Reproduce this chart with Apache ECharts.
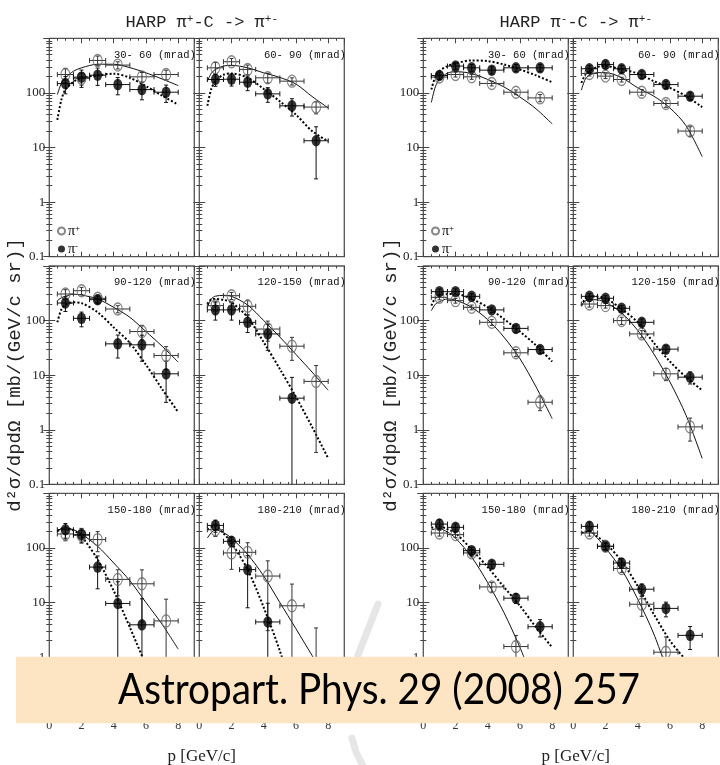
<!DOCTYPE html>
<html>
<head>
<meta charset="utf-8">
<script src="https://cdn.jsdelivr.net/npm/echarts@6/dist/echarts.min.js"></script>
<style>
  html, body { margin: 0; padding: 0; background: #fff; }
  #chart { width: 720px; height: 765px; }
</style>
</head>
<body>
<div id="chart"></div>
<script>
// momentum bins [GeV/c]: centre and half width
var pMid = [1, 2, 3, 4.25, 5.75, 7.25];
var pHalf = [0.5, 0.5, 0.5, 0.75, 0.75, 0.75];
var fitP = [0.5, 0.75, 1, 1.5, 2, 3, 4, 5, 6, 7, 8];
var angleBins = ['30- 60', '60- 90', '90-120', '120-150', '150-180', '180-210'];
var xTicks = [0, 2, 4, 6, 8];
var yTicks = [0.1, 1, 10, 100];

// pi+ beam on C  (rows = angle bins)
var posPip = [
  [217, 185, 393, 323, 197, 217],
  [288, 372, 269, 189, 164, 55],
  [307, 353, 256, 163, 63, 23],
  [188, 286, 183, 70, 34, 7.7],
  [180, 170, 142, 26.5, 22, 4.6],
  [215, 81, 83, 30.5, 8.7, 0.6]
];
var posPipErr = [
  [0.3, 0.25, 0.2, 0.15, 0.2, 0.2],
  [0.25, 0.15, 0.2, 0.2, 0.15, 0.25],
  [0.2, 0.15, 0.15, 0.15, 0.3, 0.45],
  [0.2, 0.15, 0.3, 0.4, 0.45, 0.95],
  [0.25, 0.25, 0.4, 0.5, 0.8, 1.5],
  [0.25, 0.5, 0.5, 0.9, 1.5, 4.7]
];
var posPim = [
  [148, 194, 211, 142, 115, 103],
  [176, 178, 157, 96, 58, 13.3],
  [210, 110, 242, 37.5, 36, 10.6],
  [157, 157, 93, 57, 3.8, null],
  [215, 175, 44.5, 9.6, 3.9, null],
  [258, 132, 40, 4.4, null, null]
];
var posPimErr = [
  [0.35, 0.35, 0.35, 0.35, 0.35, 0.35],
  [0.25, 0.25, 0.3, 0.3, 0.35, 0.8],
  [0.3, 0.3, 0.15, 0.45, 0.5, 0.7],
  [0.35, 0.35, 0.35, 0.5, 1.4, null],
  [0.3, 0.3, 0.6, 1.5, 2, null],
  [0.25, 0.2, 0.8, 1.2, null, null]
];
var posPipFit = [
  [93, 150, 189, 250, 288, 335, 335, 290, 233, 180, 136],
  [164, 230, 269, 310, 320, 288, 233, 192, 145, 86, 53],
  [232, 262, 278, 305, 294, 249, 175, 115, 63, 34, 17.4],
  [175, 250, 280, 290, 278, 193, 100, 50, 24, 11.4, 5.3],
  [207, 225, 231, 215, 180, 107, 53, 25, 10, 4, 1.4],
  [152, 190, 215, 190, 151, 76, 30.5, 10, 3.3, 1.07, 0.35]
];
var posPimFit = [
  [32, 75, 115, 160, 189, 209, 225, 189, 133, 89, 61],
  [58, 120, 164, 215, 227, 189, 118, 70, 40, 20, 13],
  [93, 160, 193, 216, 209, 142, 75, 39, 15.5, 5.6, 2.1],
  [201, 245, 249, 240, 216, 115, 40, 13, 4, 1.13, 0.3],
  [201, 225, 231, 210, 163, 61, 16.3, 3.5, 0.7, 0.13, null],
  [215, 240, 248, 185, 123, 40, 8.1, 1.3, 0.15, null, null]
];

// pi- beam on C
var negPip = [
  [195, 217, 197, 149, 103, 81],
  [227, 203, 176, 103, 64, 20],
  [267, 232, 175, 93, 25.7, 3.2],
  [201, 188, 100, 57, 10.6, 1.13],
  [187, 175, 81, 19.3, 1.56, null],
  [187, 107, 42, 9.3, 1.23, null]
];
var negPipErr = [
  [0.1, 0.1, 0.1, 0.1, 0.1, 0.15],
  [0.1, 0.1, 0.1, 0.12, 0.15, 0.2],
  [0.1, 0.1, 0.1, 0.12, 0.15, 0.3],
  [0.12, 0.1, 0.15, 0.15, 0.25, 0.45],
  [0.12, 0.12, 0.15, 0.2, 0.6, null],
  [0.12, 0.12, 0.15, 0.4, 0.9, null]
];
var negPim = [
  [208, 310, 288, 261, 288, 288],
  [277, 332, 277, 217, 142, 87],
  [339, 339, 278, 157, 72, 29.5],
  [278, 256, 168, 93, 30, 9.2],
  [273, 238, 89, 50, 12, 3.6],
  [248, 107, 53, 17.5, 7.8, 2.5]
];
var negPimErr = [
  [0.15, 0.15, 0.15, 0.15, 0.15, 0.15],
  [0.15, 0.15, 0.15, 0.15, 0.15, 0.15],
  [0.12, 0.12, 0.12, 0.12, 0.15, 0.15],
  [0.12, 0.12, 0.12, 0.15, 0.15, 0.25],
  [0.2, 0.15, 0.15, 0.15, 0.2, 0.35],
  [0.2, 0.15, 0.2, 0.25, 0.3, 0.45]
];
var negPipFit = [
  [67, 130, 176, 230, 245, 227, 176, 129, 84, 51, 27],
  [112, 180, 210, 235, 235, 190, 124, 87, 53, 25, 6.8],
  [152, 200, 222, 249, 238, 175, 104, 50, 20, 6.1, 1.6],
  [193, 230, 242, 240, 216, 138, 66, 24.5, 7.5, 1.84, 0.3],
  [215, 222, 225, 195, 151, 68, 23, 6.6, 1.5, 0.28, null],
  [187, 197, 201, 150, 100, 40, 11.5, 2.65, 0.4, null, null]
];
var negPimFit = [
  [115, 200, 251, 310, 347, 394, 383, 332, 269, 209, 157],
  [153, 215, 251, 300, 310, 269, 227, 164, 124, 87, 55],
  [188, 260, 294, 305, 307, 249, 175, 107, 63, 35, 17.8],
  [188, 255, 278, 275, 256, 163, 93, 39, 17.8, 9.2, 5.3],
  [231, 245, 248, 220, 187, 93, 44.5, 19.3, 8.7, 3.5, 1.5],
  [187, 197, 201, 160, 123, 57, 20, 6.1, 2, 0.87, null]
];

var beams = [
  { pip: posPip, pipErr: posPipErr, pim: posPim, pimErr: posPimErr, pipFit: posPipFit, pimFit: posPimFit },
  { pip: negPip, pipErr: negPipErr, pim: negPim, pimErr: negPimErr, pipFit: negPipFit, pimFit: negPimFit }
];

// panel layout
var colLeft = [49.3, 199.3, 423.3, 573.3];
var rowTop = [38.3, 266, 493.3];
var panelW = 145, panelH = 218.4;
var groupMid = [196.8, 570.8];

var ellipse = 'path://M50 0A50 50 0 1 1 50 100A50 50 0 1 1 50 0Z';
var serif = 'Liberation Serif';
var mono = 'Liberation Mono';

function isTick(v, list) {
  for (var i = 0; i < list.length; i++) {
    if (Math.abs(v / (list[i] || 1) - 1) < 1e-6 || v === list[i]) return true;
  }
  return false;
}

function errRender(color) {
  return function (params, api) {
    var x = api.value(0), y = api.value(1), dx = api.value(2), e = api.value(3);
    var lo = y * (1 - e), hi = Math.min(y * (1 + e), 1000);
    var clipped = lo <= 0.1;
    if (clipped) lo = 0.1;
    var pl = api.coord([x - dx, y]), pr = api.coord([x + dx, y]);
    var pt = api.coord([x, hi]), pb = api.coord([x, lo]);
    var st = { stroke: color, lineWidth: 1 };
    var cap = 2.5;
    var kids = [
      { type: 'line', shape: { x1: pl[0], y1: pl[1], x2: pr[0], y2: pr[1] }, style: st },
      { type: 'line', shape: { x1: pt[0], y1: pt[1], x2: pb[0], y2: pb[1] }, style: st },
      { type: 'line', shape: { x1: pl[0], y1: pl[1] - cap, x2: pl[0], y2: pl[1] + cap }, style: st },
      { type: 'line', shape: { x1: pr[0], y1: pr[1] - cap, x2: pr[0], y2: pr[1] + cap }, style: st },
      { type: 'line', shape: { x1: pt[0] - 2, y1: pt[1], x2: pt[0] + 2, y2: pt[1] }, style: st }
    ];
    if (!clipped) {
      kids.push({ type: 'line', shape: { x1: pb[0] - 2, y1: pb[1], x2: pb[0] + 2, y2: pb[1] }, style: st });
    }
    return { type: 'group', children: kids };
  };
}

function pointRows(vals, errs) {
  var out = [];
  vals.forEach(function (v, i) {
    if (v != null) out.push([pMid[i], v, pHalf[i], errs[i]]);
  });
  return out;
}

function fitRows(vals) {
  var out = [];
  vals.forEach(function (v, i) {
    if (v != null) out.push([fitP[i], v]);
  });
  return out;
}

var grids = [], xAxes = [], yAxes = [], series = [], titles = [];
var k = 0;
for (var g = 0; g < 2; g++) {
  for (var r = 0; r < 3; r++) {
    for (var c = 0; c < 2; c++) {
      var a = r * 2 + c;
      var b = beams[g];
      var left = colLeft[g * 2 + c];
      grids.push({
        left: left, top: rowTop[r], width: panelW, height: panelH,
        show: true, borderColor: '#555', borderWidth: 1.3, backgroundColor: '#fff'
      });
      var tickStyle = { color: '#444', width: 1 };
      // bottom + top x axes
      xAxes.push({
        gridIndex: k, type: 'value', min: 0, max: 9, interval: 2, position: 'bottom',
        axisLine: { show: false },
        axisTick: { inside: true, length: 5, lineStyle: tickStyle },
        minorTick: { show: true, splitNumber: 4, length: 2.5, lineStyle: tickStyle },
        splitLine: { show: false },
        axisLabel: {
          show: r === 2, margin: 8, showMaxLabel: false,
          fontFamily: serif, fontSize: 12, color: '#333',
          formatter: function (v) { return isTick(v, xTicks) ? String(v) : ''; }
        }
      });
      xAxes.push({
        gridIndex: k, type: 'value', min: 0, max: 9, interval: 2, position: 'top',
        axisLine: { show: false },
        axisTick: { inside: true, length: 5, lineStyle: tickStyle },
        minorTick: { show: true, splitNumber: 4, length: 2.5, lineStyle: tickStyle },
        splitLine: { show: false }, axisLabel: { show: false }
      });
      // left + right log y axes
      yAxes.push({
        gridIndex: k, type: 'log', logBase: 10, min: 0.1, max: 1000, position: 'left',
        axisLine: { show: false },
        axisTick: { inside: true, length: 6, lineStyle: tickStyle },
        minorTick: { show: true, splitNumber: 9, length: 3, lineStyle: tickStyle },
        splitLine: { show: false },
        axisLabel: {
          show: c === 0, margin: 4, showMaxLabel: false,
          fontFamily: serif, fontSize: 13, color: '#222',
          formatter: function (v) { return isTick(v, yTicks) ? String(v) : ''; }
        }
      });
      yAxes.push({
        gridIndex: k, type: 'log', logBase: 10, min: 0.1, max: 1000, position: 'right',
        axisLine: { show: false },
        axisTick: { inside: true, length: 6, lineStyle: tickStyle },
        minorTick: { show: true, splitNumber: 9, length: 3, lineStyle: tickStyle },
        splitLine: { show: false }, axisLabel: { show: false }
      });

      var xi = 2 * k, yi = 2 * k;
      series.push({
        type: 'line', name: 'fit+', xAxisIndex: xi, yAxisIndex: yi, data: fitRows(b.pipFit[a]),
        showSymbol: false, smooth: 0.3, silent: true, z: 1,
        lineStyle: { color: '#111', width: 1 }
      });
      series.push({
        type: 'line', name: 'fit-', xAxisIndex: xi, yAxisIndex: yi, data: fitRows(b.pimFit[a]),
        showSymbol: false, smooth: 0.3, silent: true, z: 1,
        lineStyle: { color: '#000', width: 2, type: [2, 2] }
      });
      series.push({
        type: 'custom', xAxisIndex: xi, yAxisIndex: yi, data: pointRows(b.pip[a], b.pipErr[a]),
        encode: { x: 0, y: 1 }, silent: true, z: 2, renderItem: errRender('#333')
      });
      series.push({
        type: 'custom', xAxisIndex: xi, yAxisIndex: yi, data: pointRows(b.pim[a], b.pimErr[a]),
        encode: { x: 0, y: 1 }, silent: true, z: 2, renderItem: errRender('#111')
      });
      series.push({
        type: 'scatter', name: 'pip', xAxisIndex: xi, yAxisIndex: yi,
        data: pointRows(b.pip[a], b.pipErr[a]).map(function (d) { return [d[0], d[1]]; }),
        symbol: ellipse, symbolSize: [9, 12], silent: true, z: 3,
        itemStyle: { color: 'rgba(255,255,255,0)', borderColor: '#666', borderWidth: 1.2 }
      });
      series.push({
        type: 'scatter', name: 'pim', xAxisIndex: xi, yAxisIndex: yi,
        data: pointRows(b.pim[a], b.pimErr[a]).map(function (d) { return [d[0], d[1]]; }),
        symbol: ellipse, symbolSize: [9, 11.5], silent: true, z: 4,
        itemStyle: { color: '#000' }
      });

      titles.push({
        text: angleBins[a] + ' (mrad)', left: left + panelW - 3.5, top: rowTop[r] + 6, textAlign: 'right',
        textStyle: { fontFamily: mono, fontSize: 10.5, fontWeight: 'normal', color: '#111' }
      });
      k++;
    }
  }
}

var supRich = { s: { fontFamily: mono, fontSize: 11, verticalAlign: 'top', lineHeight: 12 } };
titles.push({
  text: 'HARP π{s|+}-C -> π{s|+-}', left: groupMid[0], top: 9, textAlign: 'center',
  textStyle: { fontFamily: mono, fontSize: 17, fontWeight: 'normal', color: '#222', rich: supRich }
});
titles.push({
  text: 'HARP π{s|-}-C -> π{s|+-}', left: groupMid[1], top: 9, textAlign: 'center',
  textStyle: { fontFamily: mono, fontSize: 17, fontWeight: 'normal', color: '#222', rich: supRich }
});
titles.push({
  text: 'p [GeV/c]', left: groupMid[0], top: 743, textAlign: 'center',
  textStyle: { fontFamily: serif, fontSize: 17, fontWeight: 'normal', color: '#222' }
});
titles.push({
  text: 'p [GeV/c]', left: groupMid[1], top: 743, textAlign: 'center',
  textStyle: { fontFamily: serif, fontSize: 17, fontWeight: 'normal', color: '#222' }
});

function legendFor(x) {
  return {
    data: ['pip', 'pim'], left: x, top: 219, orient: 'vertical', itemGap: 4,
    itemWidth: 7, itemHeight: 10, selectedMode: false,
    formatter: function (n) { return n === 'pip' ? 'π{s|+}' : 'π{s|-}'; },
    textStyle: {
      fontFamily: serif, fontSize: 14, color: '#000', padding: [0, 0, 0, -2],
      rich: { s: { fontFamily: serif, fontSize: 9, verticalAlign: 'top', lineHeight: 10 } }
    }
  };
}

var yTitle = 'd²σ/dpdΩ [mb/(GeV/c sr)]';
var chart = echarts.init(document.getElementById('chart'));
chart.setOption({
  backgroundColor: '#fff',
  animation: false,
  title: titles,
  legend: [legendFor(52), legendFor(426)],
  grid: grids,
  xAxis: xAxes,
  yAxis: yAxes,
  series: series,
  graphic: [
    {
      type: 'polyline', z: 0, silent: true,
      shape: { points: [[378, 604], [358, 655]] },
      style: { stroke: '#e6e6e6', lineWidth: 7, fill: null, lineCap: 'round' }
    },
    {
      type: 'polyline', z: 0, silent: true,
      shape: { points: [[352, 738], [356, 752], [363, 766]] },
      style: { stroke: '#e6e6e6', lineWidth: 7, fill: null, lineCap: 'round' }
    },
    {
      type: 'text', x: 15, y: 375, rotation: Math.PI / 2, silent: true,
      style: { text: yTitle, font: '19px "Liberation Mono"', fill: '#222', align: 'center', verticalAlign: 'middle' }
    },
    {
      type: 'text', x: 391, y: 375, rotation: Math.PI / 2, silent: true,
      style: { text: yTitle, font: '19px "Liberation Mono"', fill: '#222', align: 'center', verticalAlign: 'middle' }
    },
    {
      type: 'rect', z: 100, silent: true,
      shape: { x: 16, y: 656.7, width: 704, height: 66.6 },
      style: { fill: '#fde4c2' }
    },
    {
      type: 'text', z: 101, x: 379, y: 690, scaleX: 0.9, silent: true,
      style: { text: 'Astropart. Phys. 29 (2008) 257', font: '43px Lato', fill: '#000', align: 'center', verticalAlign: 'middle' }
    }
  ]
});
</script>
</body>
</html>
